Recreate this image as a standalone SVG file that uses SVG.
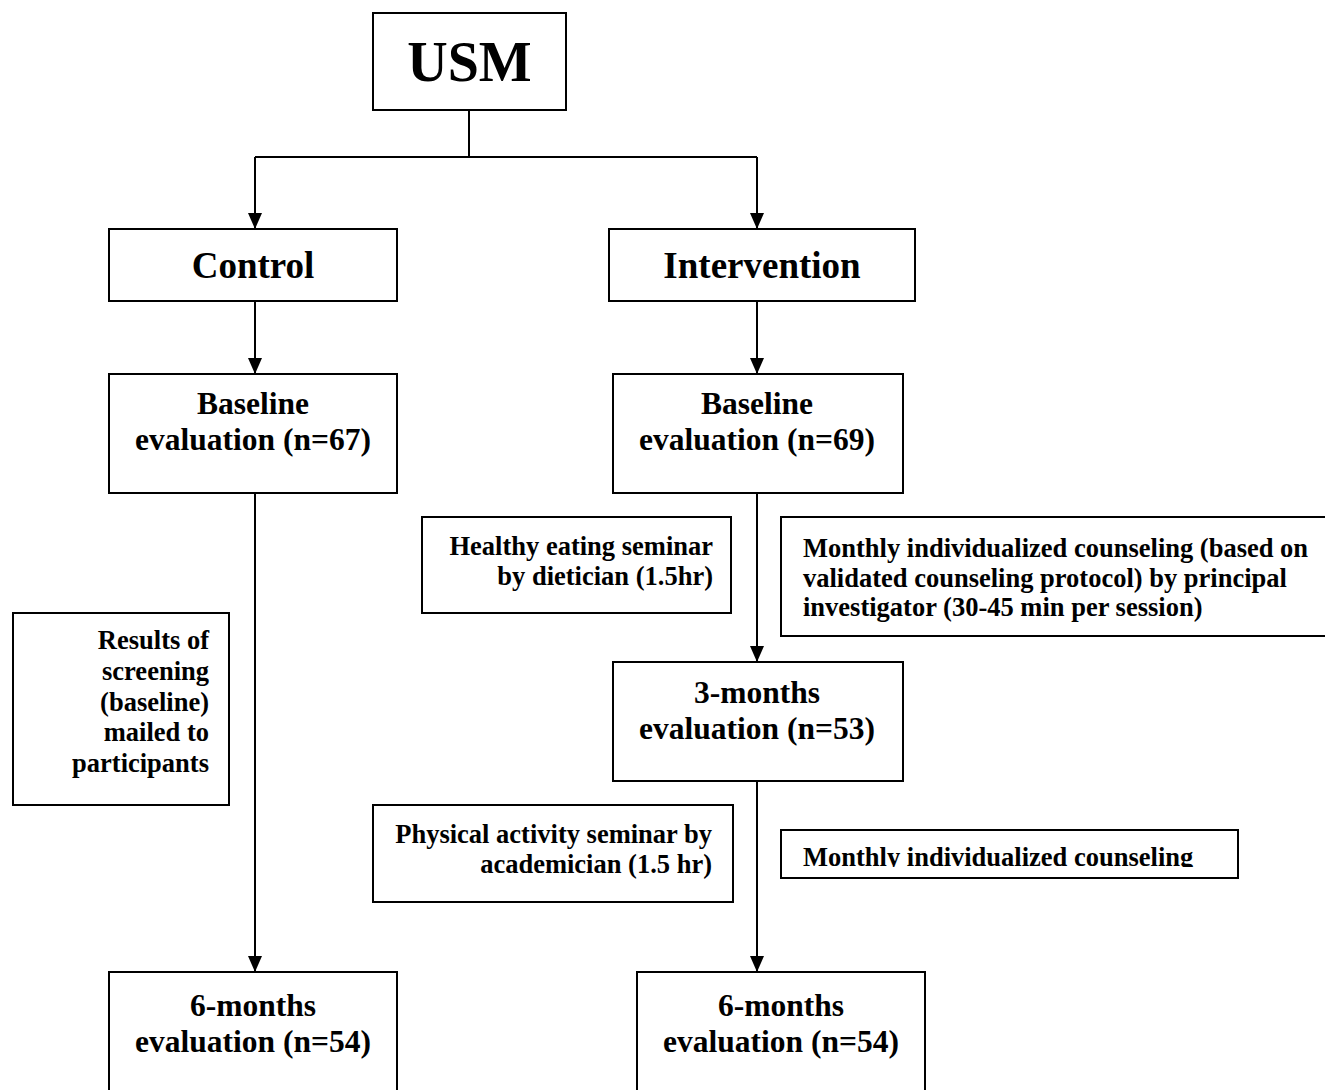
<svg xmlns="http://www.w3.org/2000/svg" width="1325" height="1090" viewBox="0 0 1325 1090">
<style>
.box{fill:#fff;stroke:#000;stroke-width:2}
.ln{fill:none;stroke:#000;stroke-width:2}
text{font-family:"Liberation Serif","Times New Roman",serif;font-weight:bold;fill:#000}
.m{font-size:31.5px;text-anchor:middle}
.h{font-size:37px;text-anchor:middle}
.s{font-size:26.5px}
.r{text-anchor:end}
</style>
<defs>
<marker id="ah" viewBox="0 0 16 14" refX="16" refY="7" markerWidth="16" markerHeight="14" markerUnits="userSpaceOnUse" orient="auto">
<path d="M0,0 L16,7 L0,14 Z" fill="#000"/>
</marker>
<clipPath id="clipM2"><rect x="781" y="830" width="460" height="37"/></clipPath>
</defs>
<g id="connectors">
<path class="ln" d="M469,110 V157"/>
<path class="ln" d="M255,157 H757"/>
<path class="ln" d="M255,157 V229" marker-end="url(#ah)"/>
<path class="ln" d="M757,157 V229" marker-end="url(#ah)"/>
<path class="ln" d="M255,301 V374" marker-end="url(#ah)"/>
<path class="ln" d="M757,301 V374" marker-end="url(#ah)"/>
<path class="ln" d="M255,493 V972" marker-end="url(#ah)"/>
<path class="ln" d="M757,493 V662" marker-end="url(#ah)"/>
<path class="ln" d="M757,781 V972" marker-end="url(#ah)"/>
</g>
<g id="usm">
<rect class="box" x="373" y="13" width="193" height="97"/>
<text x="469.5" y="81" style="font-size:56px;text-anchor:middle">USM</text>
</g>
<g id="control">
<rect class="box" x="109" y="229" width="288" height="72"/>
<text class="h" x="253" y="278">Control</text>
</g>
<g id="intervention">
<rect class="box" x="609" y="229" width="306" height="72"/>
<text class="h" x="762" y="278">Intervention</text>
</g>
<g id="baseline-control">
<rect class="box" x="109" y="374" width="288" height="119"/>
<text class="m" x="253" y="414">Baseline</text>
<text class="m" x="253" y="450">evaluation (n=67)</text>
</g>
<g id="baseline-intervention">
<rect class="box" x="613" y="374" width="290" height="119"/>
<text class="m" x="757" y="414">Baseline</text>
<text class="m" x="757" y="450">evaluation (n=69)</text>
</g>
<g id="healthy-eating">
<rect class="box" x="422" y="517" width="309" height="96"/>
<text class="s r" x="713" y="555">Healthy eating seminar</text>
<text class="s r" x="713" y="585">by dietician (1.5hr)</text>
</g>
<g id="monthly-counseling-1">
<rect class="box" x="781" y="517" width="560" height="119"/>
<text class="s" x="803" y="557">Monthly individualized counseling (based on</text>
<text class="s" x="803" y="587">validated counseling protocol) by principal</text>
<text class="s" x="803" y="616">investigator (30-45 min per session)</text>
</g>
<g id="results-mailed">
<rect class="box" x="13" y="613" width="216" height="192"/>
<text class="s r" x="209" y="649">Results of</text>
<text class="s r" x="209" y="680">screening</text>
<text class="s r" x="209" y="711">(baseline)</text>
<text class="s r" x="209" y="741">mailed to</text>
<text class="s r" x="209" y="772">participants</text>
</g>
<g id="three-months">
<rect class="box" x="613" y="662" width="290" height="119"/>
<text class="m" x="757" y="703">3-months</text>
<text class="m" x="757" y="739">evaluation (n=53)</text>
</g>
<g id="physical-activity">
<rect class="box" x="373" y="805" width="360" height="97"/>
<text class="s r" x="712" y="843">Physical activity seminar by</text>
<text class="s r" x="712" y="873">academician (1.5 hr)</text>
</g>
<g id="monthly-counseling-2">
<rect class="box" x="781" y="830" width="457" height="48"/>
<text class="s" x="803" y="866" clip-path="url(#clipM2)">Monthly individualized counseling</text>
</g>
<g id="six-months-control">
<rect class="box" x="109" y="972" width="288" height="140"/>
<text class="m" x="253" y="1016">6-months</text>
<text class="m" x="253" y="1052">evaluation (n=54)</text>
</g>
<g id="six-months-intervention">
<rect class="box" x="637" y="972" width="288" height="140"/>
<text class="m" x="781" y="1016">6-months</text>
<text class="m" x="781" y="1052">evaluation (n=54)</text>
</g>
</svg>
